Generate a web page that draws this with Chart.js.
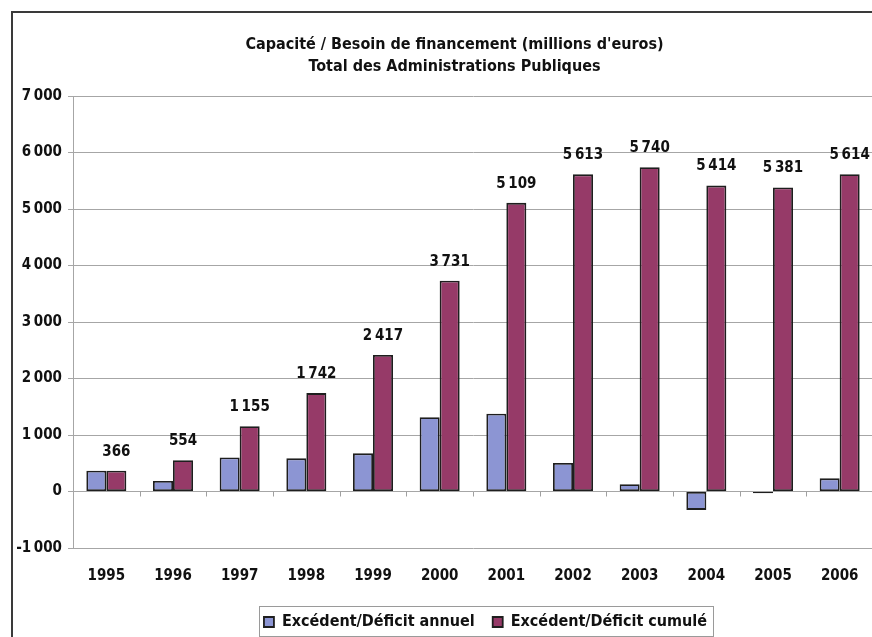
<!DOCTYPE html>
<html>
<head>
<meta charset="utf-8">
<script src="https://cdn.jsdelivr.net/npm/chart.js@4"></script>
<style>
  html, body { margin: 0; padding: 0; background: #fff; overflow: hidden; }
  #wrap { position: absolute; left: 0; top: 0; width: 890px; height: 650px; }
</style>
</head>
<body>
<div id="wrap"><canvas id="c" width="890" height="650"></canvas></div>
<script>
const years = ['1995','1996','1997','1998','1999','2000','2001','2002','2003','2004','2005','2006'];
const annuel = [366, 188, 601, 587, 675, 1314, 1378, 504, 127, -326, -33, 233];
const cumule = [366, 554, 1155, 1742, 2417, 3731, 5109, 5613, 5740, 5414, 5381, 5614];
const yTicks = [-1000, 0, 1000, 2000, 3000, 4000, 5000, 6000, 7000];
const titleLines = ["Capacité / Besoin de financement (millions d'euros)", 'Total des Administrations Publiques'];
const seriesNames = ['Excédent/Déficit annuel', 'Excédent/Déficit cumulé'];

const FONT = "'Liberation Sans Narrow', 'Arial Narrow', 'DejaVu Sans Condensed', sans-serif";
const fmt = v => {
  const s = Math.abs(v).toString().replace(/\B(?=(\d{3})+(?!\d))/g, '\u2009');
  return (v < 0 ? '-' : '') + s;
};

// frame, zero-line category ticks, value labels and legend box
const decor = {
  id: 'decor',
  afterLayout(chart) {
    // the frame runs past the right edge, so title and legend sit right of the canvas centre
    const t = chart.titleBlock;
    if (t) { t.left += 12; t.right += 12; }
    const lg = chart.legend;
    if (lg) { lg.left += 43; lg.right += 43; }
  },
  beforeDraw(chart) {
    const ctx = chart.ctx;
    ctx.save();
    ctx.strokeStyle = '#3a3a3a';
    ctx.lineWidth = 2;
    ctx.beginPath();
    ctx.moveTo(12, 700);
    ctx.lineTo(12, 12);
    ctx.lineTo(900, 12);
    ctx.stroke();
    ctx.restore();
  },
  afterDatasetsDraw(chart) {
    const ctx = chart.ctx;
    const xs = chart.scales.x, ys = chart.scales.y;
    const y0 = ys.getPixelForValue(0);
    ctx.save();
    ctx.strokeStyle = '#a0a0a0';
    ctx.lineWidth = 1;
    ctx.beginPath();
    for (let i = 0; i < years.length; i++) {
      const b = (xs.getPixelForValue(i) + xs.getPixelForValue(i + 1)) / 2;
      ctx.moveTo(Math.round(b) + 0.5, y0);
      ctx.lineTo(Math.round(b) + 0.5, y0 + 5);
    }
    ctx.stroke();
    // labels over the cumulative bars
    const meta = chart.getDatasetMeta(1);
    ctx.fillStyle = '#111';
    ctx.font = 'bold 15px ' + FONT;
    ctx.textAlign = 'center';
    ctx.textBaseline = 'middle';
    meta.data.forEach((bar, i) => {
      ctx.fillText(fmt(cumule[i]), bar.x, bar.y - 19);
    });
    ctx.restore();
  },
  afterDraw(chart) {
    const lg = chart.legend;
    if (!lg || !lg.legendHitBoxes.length) return;
    const boxes = lg.legendHitBoxes;
    let l = Infinity, r = -Infinity, t = Infinity, b = -Infinity;
    boxes.forEach(h => {
      l = Math.min(l, h.left); r = Math.max(r, h.left + h.width);
      t = Math.min(t, h.top); b = Math.max(b, h.top + h.height);
    });
    const ctx = chart.ctx;
    ctx.save();
    ctx.strokeStyle = '#9a9a9a';
    ctx.lineWidth = 1;
    ctx.strokeRect(Math.round(l - 5) + 0.5, Math.round(t - 8) + 0.5, Math.round(r - l + 11), Math.round(b - t + 14));
    ctx.restore();
  }
};

new Chart(document.getElementById('c'), {
  type: 'bar',
  data: {
    labels: years,
    datasets: [
      { label: seriesNames[0], data: annuel, backgroundColor: '#8c95d3', borderColor: '#1e1e1e', borderWidth: 1.8 },
      { label: seriesNames[1], data: cumule, backgroundColor: '#963a68', borderColor: '#1e1e1e', borderWidth: 1.8 }
    ]
  },
  options: {
    responsive: false,
    animation: false,
    events: [],
    layout: { padding: { left: 12, right: 17, top: 34, bottom: 10 } },
    datasets: { bar: { categoryPercentage: 0.6, barPercentage: 1.0, borderSkipped: false } },
    scales: {
      x: {
        grid: { display: false },
        border: { display: false },
        ticks: { color: '#111', font: { family: FONT, size: 15, weight: 'bold' }, padding: 11, maxRotation: 0 }
      },
      y: {
        min: -1000, max: 7000,
        afterBuildTicks(s) { s.ticks = yTicks.map(v => ({ value: v })); },
        afterFit(s) { s.width = 61; },
        grid: { color: '#a6a6a6', lineWidth: 1, tickLength: 5, tickColor: '#a6a6a6' },
        border: { display: true, color: '#a6a6a6', width: 1 },
        ticks: { color: '#111', font: { family: FONT, size: 15, weight: 'bold' }, padding: 6, callback: v => fmt(v) }
      }
    },
    plugins: {
      title: {
        display: true,
        text: titleLines,
        color: '#111',
        font: { family: FONT, size: 16, weight: 'bold', lineHeight: 1.375 },
        padding: { top: 0, bottom: 18 }
      },
      legend: {
        position: 'bottom',
        labels: {
          color: '#111',
          font: { family: FONT, size: 16, weight: 'bold' },
          boxWidth: 10, boxHeight: 10, padding: 18
        }
      },
      tooltip: { enabled: false }
    }
  },
  plugins: [decor]
});
</script>
</body>
</html>
